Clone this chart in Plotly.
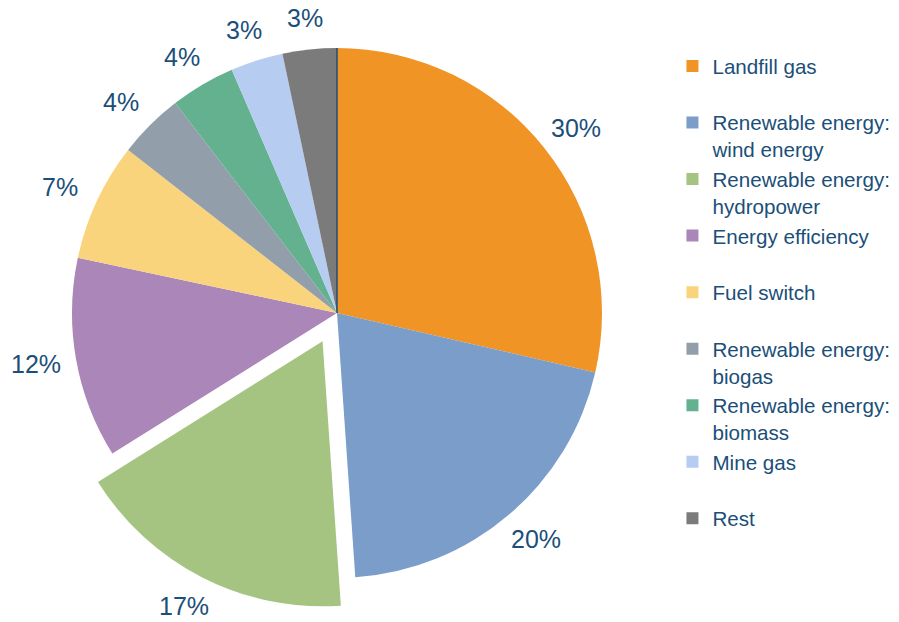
import math
import plotly.graph_objects as go

categories = [
    "Landfill gas",
    "Renewable energy:<br>wind energy",
    "Renewable energy:<br>hydropower",
    "Energy efficiency",
    "Fuel switch",
    "Renewable energy:<br>biogas",
    "Renewable energy:<br>biomass",
    "Mine gas",
    "Rest",
]
shares = [28.6, 20.3, 17.2, 12.25, 7.2, 4.0, 3.95, 3.2, 3.3]
share_labels = ["30%", "20%", "17%", "12%", "7%", "4%", "4%", "3%", "3%"]
colors = ["#EF9425", "#7B9DC9", "#A5C482", "#AA86B9", "#FAD47C",
          "#929FAA", "#63B18E", "#B6CDF1", "#7B7B7B"]
pulls = [0, 0, 0.12, 0, 0, 0, 0, 0, 0]

W, H = 899, 622
TEXT = "#1B4F79"
FONT = "Liberation Sans, Arial, sans-serif"
CX, CY, R = 337, 313, 265           # pie centre / radius in pixels
LX, LY = 1.155, 1.12                # label distance factors (horizontal / vertical)
maxpull = max(pulls)
half = R * (1 + maxpull)

legend_names = [c if "<br>" in c else c + "<br>\u00a0" for c in categories]

fig = go.Figure(go.Pie(
    labels=legend_names,
    values=shares,
    sort=False,
    direction="clockwise",
    rotation=0,
    pull=pulls,
    marker=dict(colors=colors, line=dict(width=0)),
    textinfo="none",
    hoverinfo="skip",
    domain=dict(x=[(CX - half) / W, (CX + half) / W],
                y=[(H - CY - half) / H, (H - CY + half) / H]),
))

# percentage labels placed outside each slice, derived from the shares
total = sum(shares)
cum = 0
annotations = []
for v, lab, p in zip(shares, share_labels, pulls):
    mid = (cum + v / 2) / total * 2 * math.pi
    cum += v
    px = CX + R * (LX + p) * math.sin(mid)
    py = CY - R * (LY + p) * math.cos(mid)
    annotations.append(dict(x=px / W, y=1 - py / H, xref="paper", yref="paper",
                            xanchor="center", yanchor="middle",
                            text=lab, showarrow=False,
                            font=dict(size=25, color=TEXT, family=FONT)))

fig.update_layout(
    width=W, height=H,
    margin=dict(l=0, r=0, t=0, b=0),
    paper_bgcolor="white",
    plot_bgcolor="white",
    annotations=annotations,
    shapes=[dict(type="line", xref="paper", yref="paper",
                 x0=CX / W, x1=CX / W, y0=1 - CY / H, y1=1 - (CY - R) / H,
                 line=dict(color="#1F4E79", width=1.5))],
    legend=dict(
        x=0.748, y=1 - 46 / H, xanchor="left", yanchor="top",
        font=dict(size=20.6, color=TEXT, family=FONT),
        valign="top",
        bgcolor="rgba(0,0,0,0)",
        tracegroupgap=0,
        itemclick=False,
    ),
    showlegend=True,
)

fig.write_html("out.html",
               config={"displayModeBar": False},
               post_script="document.body.style.margin='0';document.body.style.overflow='hidden';")
